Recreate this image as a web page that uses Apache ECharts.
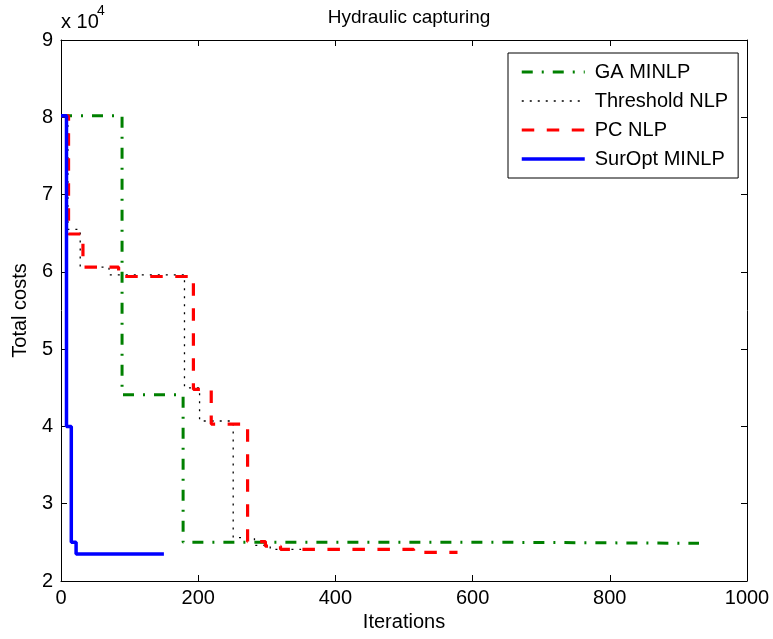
<!DOCTYPE html>
<html>
<head>
<meta charset="utf-8">
<title>Hydraulic capturing</title>
<script src="https://cdn.jsdelivr.net/npm/echarts@6/dist/echarts.min.js"></script>
<style>
  html, body { margin: 0; padding: 0; background: #fff; }
  #main { width: 773px; height: 639px; }
</style>
</head>
<body>
<div id="main"></div>
<script>
// costs in units of 1e4, drawn as steps (value holds until the next iteration listed)
var gaIter = [0, 89, 178, 655, 930];
var gaCost = [8.02, 4.41, 2.50, 2.488, 2.488];

var thrIter = [0, 10, 28, 70, 180, 202, 251, 282, 305, 350];
var thrCost = [8.02, 6.55, 6.06, 5.96, 4.50, 4.07, 2.56, 2.46, 2.41, 2.41];

var pcIter = [0, 11, 32, 84, 193, 219, 272, 298, 320, 514, 578];
var pcCost = [8.02, 6.49, 6.06, 5.94, 4.48, 4.03, 2.51, 2.45, 2.41, 2.37, 2.37];

var surIter = [0, 8, 15, 22, 150];
var surCost = [8.02, 4.00, 2.50, 2.35, 2.35];

var seriesNames = ['GA MINLP', 'Threshold NLP', 'PC NLP', 'SurOpt MINLP'];

var xTicks = [0, 1000, 200];   // min, max, step
var yTicks = [2, 9, 1];

function pairs(xs, ys) {
  return xs.map(function (x, i) { return [x, ys[i]]; });
}

var font = 'Liberation Sans';
var chart = echarts.init(document.getElementById('main'));

function axisBase(show) {
  return {
    axisLine: { show: true, onZero: false, lineStyle: { color: '#000', width: 1 } },
    axisTick: { show: true, inside: true, length: 6, lineStyle: { color: '#000' } },
    axisLabel: { show: show, color: '#000', fontSize: 20, fontFamily: font,
                 formatter: function (v) { return String(v); } },
    splitLine: { show: false }
  };
}

var xBottom = Object.assign(axisBase(true), {
  type: 'value', position: 'bottom', min: xTicks[0], max: xTicks[1], interval: xTicks[2],
  name: 'Iterations', nameLocation: 'middle', nameGap: 31,
  nameTextStyle: { color: '#000', fontSize: 20, fontFamily: font }
});
xBottom.axisLabel.margin = 7;
var xTop = Object.assign(axisBase(false), {
  type: 'value', position: 'top', min: xTicks[0], max: xTicks[1], interval: xTicks[2]
});
var yLeft = Object.assign(axisBase(true), {
  type: 'value', position: 'left', min: yTicks[0], max: yTicks[1], interval: yTicks[2],
  name: 'Total costs', nameLocation: 'middle', nameGap: 29, nameRotate: 90,
  nameTextStyle: { color: '#000', fontSize: 20, fontFamily: font }
});
yLeft.axisLabel.margin = 8;
var yRight = Object.assign(axisBase(false), {
  type: 'value', position: 'right', min: yTicks[0], max: yTicks[1], interval: yTicks[2]
});

var styles = [
  { color: '#008000', width: 3, type: [11, 9, 2, 9] },
  { color: '#000000', width: 1.3, type: [2, 6] },
  { color: '#ff0000', width: 3.2, type: [12.5, 12.5] },
  { color: '#0000ff', width: 3.5, type: 'solid' }
];

function stepSeries(i, xs, ys) {
  var s = styles[i];
  return {
    name: seriesNames[i],
    type: 'line',
    step: 'end',
    showSymbol: false,
    symbol: 'none',
    animation: false,
    data: pairs(xs, ys),
    lineStyle: { color: s.color, width: s.width, type: s.type, cap: 'butt' },
    itemStyle: { color: s.color }
  };
}

chart.setOption({
  backgroundColor: '#fff',
  animation: false,
  title: {
    text: 'Hydraulic capturing',
    left: 404, top: 3, textAlign: 'center',
    textStyle: { color: '#000', fontSize: 19, fontWeight: 'normal', fontFamily: font }
  },
  graphic: [{
    type: 'text', left: 61, top: 12,
    style: { text: 'x 10', fill: '#000', font: '20px "Liberation Sans"' }
  }, {
    type: 'text', left: 97, top: 4,
    style: { text: '4', fill: '#000', font: '14px "Liberation Sans"' }
  }],
  grid: { left: 61, right: 26, top: 40, bottom: 58, containLabel: false },
  xAxis: [xBottom, xTop],
  yAxis: [yLeft, yRight],
  legend: {
    orient: 'vertical',
    left: 508, top: 53,
    padding: [9, 10, 9, 12],
    itemWidth: 63, itemHeight: 20, itemGap: 9,
    itemStyle: { opacity: 0 },
    backgroundColor: '#fff',
    borderColor: '#000', borderWidth: 1,
    textStyle: { color: '#000', fontSize: 20, fontFamily: font, lineHeight: 20, padding: [0, 0, 0, 5] },
    data: seriesNames.map(function (n, i) {
      return { name: n, lineStyle: { width: styles[i].width, type: styles[i].type, color: styles[i].color } };
    })
  },
  series: [
    stepSeries(0, gaIter, gaCost),
    stepSeries(1, thrIter, thrCost),
    stepSeries(2, pcIter, pcCost),
    stepSeries(3, surIter, surCost)
  ]
});
</script>
</body>
</html>
